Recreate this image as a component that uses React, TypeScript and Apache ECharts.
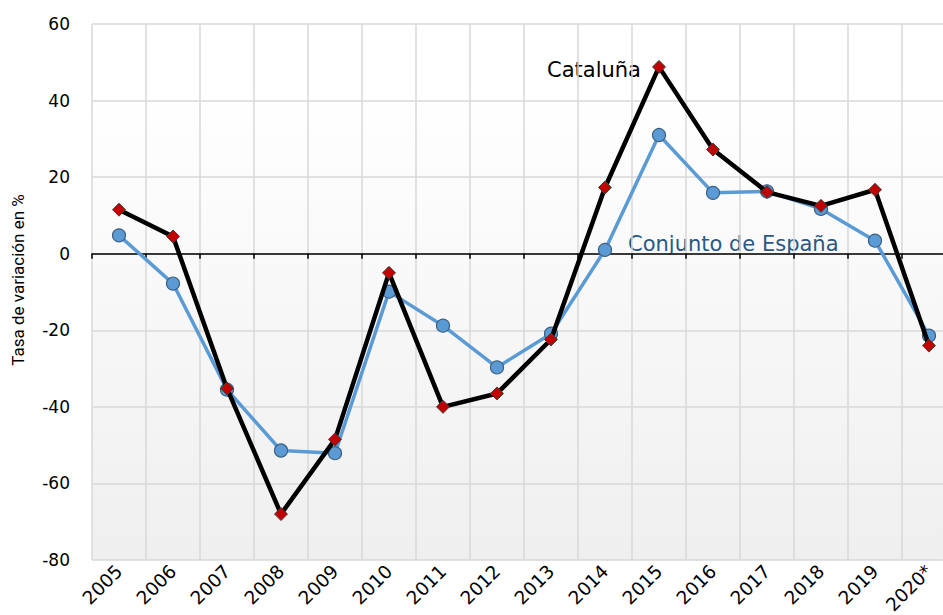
import React, { useEffect, useRef } from "react";
import * as echarts from "echarts";

const years = ["2005", "2006", "2007", "2008", "2009", "2010", "2011", "2012", "2013", "2014", "2015", "2016", "2017", "2018", "2019", "2020*"];
const cataluna = [11.5, 4.5, -35.2, -68, -48.5, -5, -40, -36.5, -22.4, 17.3, 48.8, 27.2, 16.1, 12.5, 16.7, -24];
const espana = [4.8, -7.8, -35.5, -51.4, -52.1, -9.9, -18.8, -29.7, -20.9, 1, 31, 15.9, 16.3, 11.7, 3.4, -21.4];
const yTicks = { min: -80, max: 60, interval: 20 };

export default function App() {
  const ref = useRef<HTMLDivElement>(null);
  useEffect(() => {
    const chart = echarts.init(ref.current!, null, { renderer: "svg" });
    const font = "'DejaVu Sans', 'Noto Sans', sans-serif";
    chart.setOption({
      animation: false,
      backgroundColor: "#ffffff",
      grid: {
        left: 92,
        top: 24,
        width: 864,
        height: 536,
        outerBoundsMode: "none",
        containLabel: false,
        show: true,
        borderWidth: 0,
        backgroundColor: {
          type: "linear",
          x: 0, y: 0, x2: 0, y2: 1,
          colorStops: [
            { offset: 0, color: "#ffffff" },
            { offset: 0.12, color: "#ffffff" },
            { offset: 1, color: "#efefef" },
          ],
        },
      },
      xAxis: [
        {
          type: "category",
          data: years,
          boundaryGap: true,
          position: "bottom",
          axisLine: { show: false, onZero: false },
          axisTick: { show: false },
          axisLabel: { rotate: 45, fontSize: 18.5, color: "#000", fontFamily: font, margin: 8, interval: 0 },
          splitLine: { show: true, interval: 0, lineStyle: { color: "#d9d9d9", width: 1.5 } },
        },
        {
          type: "category",
          data: years,
          boundaryGap: true,
          position: "bottom",
          axisLine: { show: true, onZero: true, lineStyle: { color: "#000", width: 1.5 } },
          axisTick: { show: true, length: 5, interval: 0, lineStyle: { color: "#000", width: 1.5 } },
          axisLabel: { show: false },
          splitLine: { show: false },
        },
      ],
      yAxis: {
        type: "value",
        min: yTicks.min,
        max: yTicks.max,
        interval: yTicks.interval,
        axisLine: { show: false },
        axisTick: { show: false },
        axisLabel: { fontSize: 17, color: "#000", fontFamily: font, margin: 22 },
        splitLine: { show: true, lineStyle: { color: "#d9d9d9", width: 1.5 } },
      },
      series: [
        {
          name: "Conjunto de España",
          type: "line",
          data: espana,
          symbol: "circle",
          symbolSize: 13,
          lineStyle: { color: "#5b9bd5", width: 3.5 },
          itemStyle: { color: "#5b9bd5", borderColor: "#3d5f80", borderWidth: 1.2 },
          z: 2,
        },
        {
          name: "Cataluña",
          type: "line",
          data: cataluna,
          symbol: "diamond",
          symbolSize: 13,
          lineStyle: { color: "#000000", width: 4.5 },
          itemStyle: { color: "#c00000", borderColor: "#404040", borderWidth: 1 },
          z: 3,
        },
      ],
      graphic: [
        {
          type: "text",
          x: 18,
          y: 280,
          rotation: Math.PI / 2,
          style: {
            text: "Tasa de variación en %",
            fontSize: 17,
            fontFamily: "'Liberation Sans Narrow', 'Roboto', sans-serif",
            fill: "#000",
            align: "center",
            verticalAlign: "middle",
          },
        },
        {
          type: "text",
          left: 547,
          top: 59,
          style: { text: "Cataluña", fontSize: 21, fontFamily: font, fill: "#000" },
        },
        {
          type: "text",
          left: 628,
          top: 233,
          style: { text: "Conjunto de España", fontSize: 21, fontFamily: font, fill: "#2a5783" },
        },
      ],
    });
    return () => chart.dispose();
  }, []);
  return <div ref={ref} style={{ width: 943, height: 615, position: "absolute", left: 0, top: 0 }} />;
}
